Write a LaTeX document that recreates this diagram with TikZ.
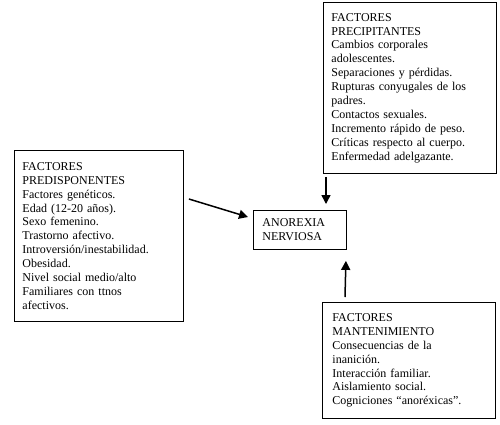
\documentclass[tikz,border=0pt]{standalone}
\usepackage{fontspec}
\setmainfont{Liberation Serif}
\usetikzlibrary{arrows.meta,calc}
\begin{document}
\begin{tikzpicture}[x=1pt,y=-1pt,
  box/.style={draw,line width=0.9pt,anchor=north west,inner ysep=0pt,
    font=\fontsize{12}{13.9}\selectfont,align=left},
  arr/.style={line width=1.5pt,-{Triangle[length=9pt,width=9pt]}}]
\useasboundingbox (0,0) rectangle (500,424);
\node[box,inner xsep=8pt,text width=153pt,minimum height=171pt] (pre) at (14,150)
 {FACTORES\\PREDISPONENTES\\Factores genéticos.\\Edad (12-20 años).\\Sexo femenino.\\Trastorno afectivo.\\Introversión/inestabilidad.\\Obesidad.\\Nivel social medio/alto\\Familiares con ttnos\\afectivos.};
\node[box,inner xsep=8pt,text width=157pt,minimum height=171pt] (prec) at (323,2)
 {FACTORES\\PRECIPITANTES\\Cambios corporales\\adolescentes.\\Separaciones y pérdidas.\\Rupturas conyugales de los\\padres.\\Contactos sexuales.\\Incremento rápido de peso.\\Críticas respecto al cuerpo.\\Enfermedad adelgazante.};
\node[box,inner xsep=10pt,text width=153pt,minimum height=116pt] (mant) at (322,302)
 {FACTORES\\MANTENIMIENTO\\Consecuencias de la\\inanición.\\Interacción familiar.\\Aislamiento social.\\Cogniciones “anoréxicas”.};
\node[box,inner xsep=9pt,text width=75pt,minimum height=39pt] (ano) at (253,210)
 {ANOREXIA\\NERVIOSA};
\draw[arr] ($(pre.north east)+(5,49)$) -- ($(ano.north west)+(-5,7)$);
\draw[arr] ($(prec.south west)+(3,3)$) -- ($(ano.north west)+(73,-6)$);
\draw[arr] ($(mant.north west)+(23,-5)$) -- ($(ano.south east)+(-1,11)$);
\end{tikzpicture}
\end{document}
